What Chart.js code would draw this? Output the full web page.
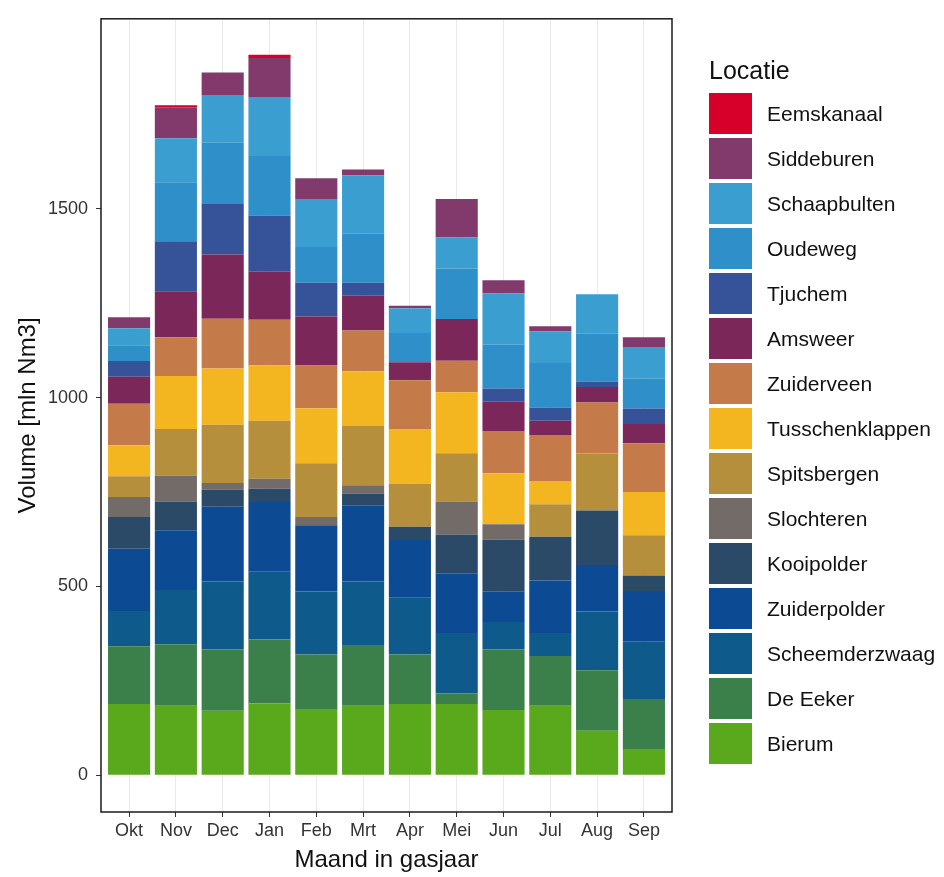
<!DOCTYPE html>
<html>
<head>
<meta charset="utf-8">
<script src="https://cdn.jsdelivr.net/npm/chart.js@4.4.0/dist/chart.umd.min.js"></script>
<style>
  body { margin: 0; background: #fff; }
  #wrap { position: relative; width: 944px; height: 877px; }
  #legend { position: absolute; left: 709px; top: 52px; font-family: "Liberation Sans", Arial, sans-serif; color: #111; white-space: nowrap; }
  #legend .titel { font-size: 25px; height: 41px; line-height: 36px; }
  #legend .item { height: 45px; position: relative; }
  #legend .vak { position: absolute; left: 0; top: 0; width: 43px; height: 41px; }
  #legend .naam { position: absolute; left: 58px; top: 0; line-height: 41px; font-size: 21px; }
</style>
</head>
<body>
<div id="wrap">
  <canvas id="ex_chart" width="944" height="877"></canvas>
  <div id="legend"></div>
</div>
<script>
var months = ['Okt', 'Nov', 'Dec', 'Jan', 'Feb', 'Mrt', 'Apr', 'Mei', 'Jun', 'Jul', 'Aug', 'Sep'];
var yTicks = [0, 500, 1000, 1500];

// van onder naar boven gestapeld
var locaties = ['Bierum', 'De Eeker', 'Scheemderzwaag', 'Zuiderpolder', 'Kooipolder', 'Slochteren',
    'Spitsbergen', 'Tusschenklappen', 'Zuiderveen', 'Amsweer', 'Tjuchem', 'Oudeweg',
    'Schaapbulten', 'Siddeburen', 'Eemskanaal'];
var kleuren = ['#5aa91d', '#3b7f4b', '#0d5a8b', '#0c4b94', '#2b4a68', '#736b67',
    '#b68f3d', '#f3b520', '#c47b49', '#7b2759', '#36539a', '#2f8fc8',
    '#3a9ed1', '#813a6b', '#d6002b'];

var bierum          = [189, 184, 171, 190, 176, 184, 189, 189, 173, 184, 118,  70];
var deEeker         = [153, 163, 162, 170, 144, 161, 131,  28, 160, 132, 160, 132];
var scheemderzwaag  = [ 93, 144, 180, 179, 167, 168, 150, 160,  73,  61, 156, 153];
var zuiderpolder    = [165, 158, 198, 185, 175, 202, 153, 158,  80, 139, 123, 133];
var kooipolder      = [ 84,  76,  46,  35,   0,  31,  35, 103, 138, 116, 144,  41];
var slochteren      = [ 53,  69,  17,  26,  22,  22,   0,  87,  41,   0,   0,   0];
var spitsbergen     = [ 55, 123, 154, 154, 142, 157, 114, 128,   0,  86, 151, 107];
var tusschenklappen = [ 82, 140, 149, 146, 146, 145, 145, 161, 135,  61,   0, 114];
var zuiderveen      = [110, 103, 132, 121, 113, 108, 129,  84, 112, 122, 135, 129];
var amsweer         = [ 71, 122, 170, 127, 130,  92,  48, 110,  77,  38,  41,  51];
var tjuchem         = [ 42, 132, 134, 149,  89,  34,   0,   0,  35,  35,  15,  41];
var oudeweg         = [ 42, 156, 162, 158,  95, 130,  77, 134, 116, 118, 126,  79];
var schaapbulten    = [ 45, 117, 126, 156, 127, 154,  66,  82, 136,  83, 105,  84];
var siddeburen      = [ 29,  82,  60, 103,  55,  16,   6, 102,  35,  14,   0,  26];
var eemskanaal      = [  0,   5,   0,   9,   0,   0,   0,   0,   0,   0,   0,   0];

var reeksen = [bierum, deEeker, scheemderzwaag, zuiderpolder, kooipolder, slochteren,
    spitsbergen, tusschenklappen, zuiderveen, amsweer, tjuchem, oudeweg,
    schaapbulten, siddeburen, eemskanaal];

var FONT = '"Liberation Sans", Arial, sans-serif';

var panelBorder = {
    id: 'panelBorder',
    afterDraw: function (chart) {
        var a = chart.chartArea;
        var ctx = chart.ctx;
        ctx.save();
        ctx.strokeStyle = '#1a1a1a';
        ctx.lineWidth = 1.5;
        ctx.strokeRect(a.left, a.top, a.right - a.left, a.bottom - a.top);
        ctx.restore();
    }
};

function MakeLegend() {
    var html = '<div class="titel">Locatie</div>';
    for (var i = locaties.length - 1; i >= 0; i--) {
        html += '<div class="item"><div class="vak" style="background:' + kleuren[i] + '"></div>' +
            '<div class="naam">' + locaties[i] + '</div></div>';
    }
    document.getElementById('legend').innerHTML = html;
}

function InitializeGraph() {
    var ctx = document.getElementById('ex_chart');

    var datasets = locaties.map(function (naam, i) {
        return {
            label: naam,
            data: reeksen[i].map(function (v, j) { return { x: j, y: v }; }),
            backgroundColor: kleuren[i],
            borderWidth: 0,
            barPercentage: 0.9,
            categoryPercentage: 1.0
        };
    });

    var ex_chart = new Chart(ctx, {
        type: 'bar',
        data: { datasets: datasets },
        plugins: [panelBorder],
        options: {
            responsive: false,
            animation: false,
            layout: { padding: { top: 14, right: 272, left: 0, bottom: 0 } },
            plugins: { legend: { display: false }, tooltip: { enabled: false } },
            scales: {
                x: {
                    type: 'linear',
                    min: -0.6,
                    max: 11.6,
                    offset: false,
                    stacked: true,
                    afterBuildTicks: function (s) {
                        s.ticks = months.map(function (m, i) { return { value: i }; });
                    },
                    afterFit: function (s) { s.height = 65; },
                    ticks: {
                        callback: function (v) { return months[v]; },
                        font: { family: FONT, size: 18 },
                        color: '#333',
                        padding: 3,
                        maxRotation: 0,
                        autoSkip: false
                    },
                    grid: { offset: false, color: '#ebebeb', tickColor: '#333', tickLength: 5 },
                    border: { display: false },
                    title: {
                        display: true,
                        text: 'Maand in gasjaar',
                        font: { family: FONT, size: 24 },
                        color: '#111',
                        padding: { top: 0, bottom: 2 }
                    }
                },
                y: {
                    stacked: true,
                    min: -97,
                    max: 2003,
                    afterBuildTicks: function (s) {
                        s.ticks = yTicks.map(function (v) { return { value: v }; });
                    },
                    afterFit: function (s) { s.width = 101; },
                    ticks: {
                        callback: function (v) { return String(v); },
                        font: { family: FONT, size: 18 },
                        color: '#333',
                        padding: 8
                    },
                    grid: { drawOnChartArea: false, tickColor: '#333', tickLength: 5 },
                    border: { display: false },
                    title: {
                        display: true,
                        text: 'Volume [mln Nm3]',
                        font: { family: FONT, size: 24 },
                        color: '#111',
                        padding: { top: 14, bottom: 0 }
                    }
                }
            }
        }
    });
}

MakeLegend();
InitializeGraph();
</script>
</body>
</html>
